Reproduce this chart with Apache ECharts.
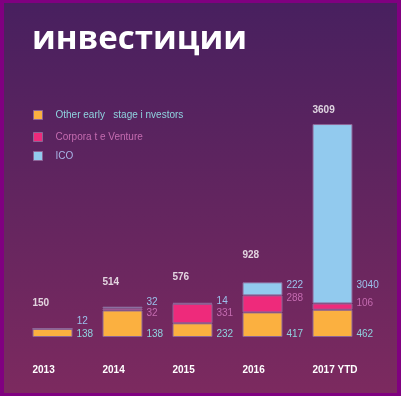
<!DOCTYPE html>
<html>
<head>
<meta charset="utf-8">
<script src="https://cdn.jsdelivr.net/npm/echarts@6/dist/echarts.min.js"></script>
<style>
html,body{margin:0;padding:0;background:#800080;width:401px;height:396px;overflow:hidden;}
#chart{position:absolute;left:4px;top:3px;width:393px;height:390px;}
</style>
</head>
<body>
<div id="chart"></div>
<script>
var categories = ['2013', '2014', '2015', '2016', '2017 YTD'];
var otherEarly = [138, 450, 232, 417, 462];
var otherEarlyLabels = ['138', '138', '232', '417', '462'];
var corporate = [0, 32, 331, 288, 106];
var ico = [12, 32, 14, 222, 3040];
var totals = [150, 514, 576, 928, 3609];
var seriesNames = ['Other early   stage i nvestors', 'Corpora t e Venture', 'ICO'];

// label layout offsets (pixels), not data
var corpOffsetY = [0, 5, 9, 3, 0];
var icoOffsetY = [-7, -4, -2, 3, 0];
var totalDist = [19, 18, 20, 21, 8];

var C_OR = '#fbb040', C_PK = '#ee2a7b', C_BL = '#92caee';
var L_OR = '#8fd3df', L_PK = '#c46bb0', L_BL = '#9cc2ec';
var border = 'rgba(140,100,150,1)';

var chart = echarts.init(document.getElementById('chart'));
var option = {
  backgroundColor: new echarts.graphic.LinearGradient(0, 0, 0, 1, [
    {offset: 0, color: '#48205f'}, {offset: 1, color: '#7c2a5f'}
  ]),
  animation: false,
  title: {
    text: 'инвестиции', left: 28, top: 20, padding: 0,
    textStyle: {fontFamily: 'Open Sans', fontWeight: 'bold', fontSize: 33, color: '#ffffff'}
  },
  legend: [0, 1, 2].map(function (i) {
    return {
      orient: 'vertical', left: 29, top: [107, 129, 148][i], padding: 0,
      itemWidth: 9, itemHeight: 9, icon: 'rect',
      data: [{name: seriesNames[i], textStyle: {color: [L_OR, L_PK, '#a8b4e6'][i]}}],
      textStyle: {fontFamily: 'Liberation Sans', fontSize: 10, padding: [0, 0, 0, 8]},
      itemStyle: {borderWidth: 1, borderColor: border}
    };
  }),
  grid: {left: 13.5, right: 29.5, top: 121, bottom: 56},
  xAxis: {
    type: 'category', data: categories,
    axisLine: {show: false}, axisTick: {show: false},
    axisLabel: {
      margin: 28, align: 'center', interval: 0,
      formatter: function (v) { return '{a|' + v + '}'; },
      rich: {a: {width: 40, align: 'left', color: '#ffffff', fontWeight: 'bold', fontSize: 10, fontFamily: 'Liberation Sans'}}
    }
  },
  yAxis: {type: 'value', min: 0, max: 3609, show: false, splitLine: {show: false}},
  series: [
    {
      name: seriesNames[0], type: 'bar', stack: 'a', barWidth: 40,
      itemStyle: {color: C_OR, borderColor: border, borderWidth: 1},
      label: {
        show: true, position: ['100%', '100%'], align: 'left', verticalAlign: 'bottom', offset: [4, 2],
        color: L_OR, fontSize: 10, fontFamily: 'Liberation Sans',
        formatter: function (p) { return otherEarlyLabels[p.dataIndex]; }
      },
      data: otherEarly
    },
    {
      name: seriesNames[1], type: 'bar', stack: 'a', barWidth: 40,
      itemStyle: {color: C_PK, borderColor: border, borderWidth: 1},
      data: corporate.map(function (v, i) {
        return {
          value: v,
          label: {
            show: v > 0, position: ['100%', 0], align: 'left', verticalAlign: 'middle',
            offset: [4, corpOffsetY[i]], color: L_PK, fontSize: 10, fontFamily: 'Liberation Sans'
          }
        };
      })
    },
    {
      name: seriesNames[2], type: 'bar', stack: 'a', barWidth: 40,
      itemStyle: {color: C_BL, borderColor: border, borderWidth: 1},
      data: ico.map(function (v, i) {
        var big = i === 4;
        return {
          value: v,
          label: {
            show: true, position: big ? ['100%', '100%'] : ['100%', 0], align: 'left', verticalAlign: 'middle',
            offset: big ? [4, -18] : [4, icoOffsetY[i]], color: L_BL, fontSize: 10, fontFamily: 'Liberation Sans'
          }
        };
      })
    },
    {
      name: 'total', type: 'scatter', symbol: 'circle', symbolSize: 2,
      itemStyle: {color: 'rgba(0,0,0,0)'}, silent: true, z: 10,
      data: totals.map(function (v, i) {
        return {
          value: v,
          label: {
            show: true, position: 'top', distance: totalDist[i], align: 'left', offset: [-20, 0],
            color: '#ffffff', fontWeight: 'bold', fontSize: 10, fontFamily: 'Liberation Sans'
          }
        };
      })
    }
  ]
};
chart.setOption(option);
</script>
</body>
</html>
